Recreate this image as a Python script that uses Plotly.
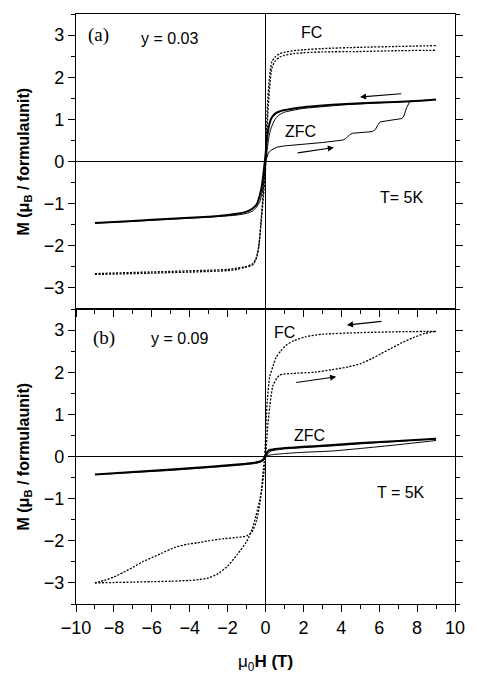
import plotly.graph_objects as go

# ---------------- data: panel (a), y = 0.03 ----------------
a_fc1_h = [-9, -6, -3, -2, -1.5, -1, -0.7, -0.5, -0.35, -0.2, -0.1, 0, 0.1, 0.2, 0.33, 0.5, 0.76, 1, 1.5, 2, 3, 5, 7, 9]
a_fc1_m = [-2.66, -2.62, -2.58, -2.56, -2.53, -2.49, -2.43, -2.3, -2.0, -1.2, -0.6, 0.1, 1.3, 1.95, 2.36, 2.48, 2.56, 2.59, 2.63, 2.65, 2.68, 2.71, 2.73, 2.75]
a_fc2_h = [-9, -6, -3, -2, -1.5, -1.14, -0.8, -0.62, -0.45, -0.36, -0.25, -0.12, 0, 0.1, 0.2, 0.33, 0.5, 0.76, 1, 1.5, 2, 3, 5, 7, 9]
a_fc2_m = [-2.68, -2.65, -2.61, -2.59, -2.56, -2.52, -2.48, -2.43, -2.25, -2.04, -1.55, -0.9, -0.2, 0.9, 1.65, 2.2, 2.38, 2.48, 2.52, 2.56, 2.58, 2.6, 2.61, 2.63, 2.64]

a_zfc_dn_h = [9, 7.7, 6, 4, 3, 2, 1.5, 1, 0.7, 0.5, 0.3, 0.2, 0.1, 0.05, 0, -0.1, -0.2, -0.3, -0.47, -0.7, -1, -1.5, -2, -3, -5, -7, -9]
a_zfc_dn_m = [1.47, 1.43, 1.40, 1.36, 1.33, 1.29, 1.26, 1.22, 1.18, 1.13, 1.02, 0.88, 0.62, 0.43, 0.15, -0.25, -0.6, -0.8, -1.02, -1.12, -1.19, -1.24, -1.27, -1.31, -1.36, -1.41, -1.46]
a_zfc_up_h = [-9, -7, -5, -3, -2, -1.5, -1, -0.7, -0.5, -0.3, -0.2, -0.1, 0, 0.1, 0.2, 0.3, 0.5, 0.7, 1, 1.5, 2, 3, 4, 6, 7.7, 9]
a_zfc_up_m = [-1.46, -1.42, -1.37, -1.32, -1.29, -1.27, -1.23, -1.18, -1.1, -0.95, -0.78, -0.5, -0.1, 0.32, 0.62, 0.8, 1.0, 1.1, 1.17, 1.22, 1.26, 1.3, 1.34, 1.39, 1.43, 1.47]
a_zfc_virgin_h = [0, 0.05, 0.15, 0.3, 0.6, 1, 1.8, 3, 4.1, 4.25, 4.45, 4.6, 5.65, 5.8, 5.95, 6.05, 7.2, 7.3, 7.45, 7.6, 7.7]
a_zfc_virgin_m = [0, 0.08, 0.2, 0.27, 0.34, 0.37, 0.4, 0.45, 0.51, 0.55, 0.64, 0.67, 0.71, 0.76, 0.88, 0.94, 1.02, 1.08, 1.28, 1.41, 1.45]

# ---------------- data: panel (b), y = 0.09 ----------------
b_fc_dn_h = [9, 7, 5, 3, 2.1, 1.5, 1.09, 0.8, 0.57, 0.4, 0.22, 0.1, 0.05, 0, -0.05, -0.12, -0.2, -0.3, -0.47, -0.7, -0.98, -1.5, -2.2, -3, -3.6, -4.1, -4.8, -5.5, -6, -6.5, -7, -7.5, -8, -8.5, -9]
b_fc_dn_m = [2.97, 2.96, 2.94, 2.9, 2.84, 2.75, 2.64, 2.5, 2.36, 2.15, 1.89, 1.35, 1.0, 0.4, -0.05, -0.33, -0.75, -1.12, -1.52, -1.78, -1.88, -1.92, -1.95, -2.0, -2.05, -2.08, -2.16, -2.3, -2.4, -2.5, -2.63, -2.75, -2.86, -2.94, -3.0]
b_fc_up_h = [-9, -8, -7, -6, -5, -4, -3.5, -3, -2.5, -2, -1.5, -1, -0.7, -0.5, -0.3, -0.2, -0.1, 0, 0.1, 0.22, 0.4, 0.74, 1.43, 2.6, 3.5, 4.4, 5, 5.6, 6.1, 6.6, 7.2, 7.8, 8.4, 9]
b_fc_up_m = [-3.0, -2.99, -2.98, -2.97, -2.96, -2.94, -2.92, -2.88, -2.78, -2.6, -2.33, -2.02, -1.72, -1.4, -1.02, -0.8, -0.45, -0.05, 0.62, 1.17, 1.69, 1.93, 1.97, 2.0, 2.06, 2.13, 2.2, 2.32, 2.44, 2.56, 2.7, 2.82, 2.92, 2.97]

b_zfc_dn_h = [9, 7, 5, 3.5, 2, 1, 0.5, 0.2, 0.1, 0, -0.1, -0.2, -0.3, -0.6, -1, -2, -3.5, -5, -7, -9]
b_zfc_dn_m = [0.42, 0.37, 0.32, 0.27, 0.23, 0.2, 0.18, 0.15, 0.1, 0.02, -0.06, -0.1, -0.12, -0.15, -0.17, -0.21, -0.26, -0.31, -0.37, -0.43]
b_zfc_up_h = [-9, -7, -5, -3.5, -2, -1, -0.6, -0.3, -0.2, -0.1, 0, 0.1, 0.2, 0.3, 0.5, 1, 2, 3.5, 5, 7, 9]
b_zfc_up_m = [-0.43, -0.38, -0.33, -0.28, -0.23, -0.19, -0.17, -0.14, -0.12, -0.09, -0.02, 0.05, 0.1, 0.13, 0.15, 0.18, 0.21, 0.25, 0.3, 0.36, 0.42]
b_zfc_virgin_h = [0, 0.1, 0.3, 1, 2, 3.5, 5, 7, 9]
b_zfc_virgin_m = [0, 0.02, 0.04, 0.07, 0.1, 0.13, 0.19, 0.28, 0.38]

# tick labels
x_ticks = [-10, -8, -6, -4, -2, 0, 2, 4, 6, 8, 10]
y_ticks = [-3, -2, -1, 0, 1, 2, 3]

# text labels: (panel, x, y, text, font)
labels = [
    ("a", -8.8, 3.0, "(a)", "serif"),
    ("a", -5.05, 2.93, "y = 0.03", "sans"),
    ("a", 2.41, 3.05, "FC", "sans"),
    ("a", 1.87, 0.71, "ZFC", "sans"),
    ("a", 7.18, -0.86, "T= 5K", "sans"),
    ("b", -8.5, 2.81, "(b)", "serif"),
    ("b", -4.53, 2.81, "y = 0.09", "sans"),
    ("b", 1.0, 2.95, "FC", "sans"),
    ("b", 2.33, 0.5, "ZFC", "sans"),
    ("b", 7.15, -0.85, "T = 5K", "sans"),
]
# arrows: (panel, head_x, head_y, tail_x, tail_y)
arrows = [
    ("a", 4.99, 1.53, 7.24, 1.61),
    ("a", 3.61, 0.33, 1.62, 0.20),
    ("b", 4.3, 3.12, 6.2, 3.21),
    ("b", 3.73, 1.89, 1.54, 1.75),
]

SANS = "Liberation Sans, Arial, Helvetica, sans-serif"
SERIF = "Liberation Serif, Times New Roman, serif"
DOT = "2px,1.5px"

fig = go.Figure()

def add(h, m, panel, width=1.0, dash="solid", smooth=True):
    xa, ya = ("x", "y") if panel == "a" else ("x2", "y2")
    line = dict(color="black", width=width, dash=dash)
    if smooth:
        line.update(shape="spline", smoothing=0.6)
    fig.add_trace(go.Scatter(x=h, y=m, mode="lines", xaxis=xa, yaxis=ya, line=line,
                             showlegend=False, hoverinfo="skip"))

add(a_fc1_h, a_fc1_m, "a", 1.3, DOT)
add(a_fc2_h, a_fc2_m, "a", 1.3, DOT)
add(a_zfc_up_h, a_zfc_up_m, "a", 1.0)
add(a_zfc_dn_h, a_zfc_dn_m, "a", 2.0)
add(a_zfc_virgin_h, a_zfc_virgin_m, "a", 1.0, smooth=False)

add(b_fc_dn_h, b_fc_dn_m, "b", 1.3, DOT)
add(b_fc_up_h, b_fc_up_m, "b", 1.3, DOT)
add(b_zfc_up_h, b_zfc_up_m, "b", 1.0)
add(b_zfc_dn_h, b_zfc_dn_m, "b", 2.0)
add(b_zfc_virgin_h, b_zfc_virgin_m, "b", 1.0)

annotations = []
for panel, x, y, txt, f in labels:
    xr, yr = ("x", "y") if panel == "a" else ("x2", "y2")
    annotations.append(dict(x=x, y=y, xref=xr, yref=yr, text=txt, showarrow=False,
                            xanchor="center", yanchor="middle",
                            font=dict(family=SERIF if f == "serif" else SANS,
                                      size=19 if f == "serif" else 16, color="black")))
for panel, hx, hy, tx, ty in arrows:
    xr, yr = ("x", "y") if panel == "a" else ("x2", "y2")
    annotations.append(dict(x=hx, y=hy, ax=tx, ay=ty, xref=xr, yref=yr, axref=xr, ayref=yr,
                            text="", showarrow=True, arrowhead=2, arrowsize=1.1,
                            arrowwidth=1.1, arrowcolor="black"))

ytitle = "<b>M (μ<sub>B</sub> / formulaunit)</b>"
annotations.append(dict(x=0, y=0.75, xref="paper", yref="paper", text=ytitle, textangle=-90,
                        showarrow=False, xanchor="center", yanchor="middle", xshift=-52,
                        font=dict(family=SANS, size=16, color="black")))
annotations.append(dict(x=0, y=0.25, xref="paper", yref="paper", text=ytitle, textangle=-90,
                        showarrow=False, xanchor="center", yanchor="middle", xshift=-52,
                        font=dict(family=SANS, size=16, color="black")))
annotations.append(dict(x=0.5, y=0, xref="paper", yref="paper", text="μ<sub>0</sub><b>H (T)</b>",
                        showarrow=False, xanchor="center", yanchor="middle", yshift=-59,
                        font=dict(family=SANS, size=17, color="black")))

xcommon = dict(range=[-10, 10], tickvals=x_ticks, ticks="outside", ticklen=7, tickwidth=1,
               tickcolor="black", showline=True, linecolor="black", linewidth=1.3, mirror=True,
               showgrid=False, zeroline=True, zerolinecolor="black", zerolinewidth=1,
               minor=dict(dtick=1, ticks="outside", ticklen=4, tickcolor="black", showgrid=False),
               tickfont=dict(family=SANS, size=18, color="black"))
ycommon = dict(range=[-3.5, 3.5], tickvals=y_ticks, ticks="outside", ticklen=7, tickwidth=1,
               tickcolor="black", showline=True, linecolor="black", linewidth=1.3, mirror="ticks",
               showgrid=False, zeroline=True, zerolinecolor="black", zerolinewidth=1,
               minor=dict(dtick=0.5, ticks="outside", ticklen=4, tickcolor="black", showgrid=False),
               tickfont=dict(family=SANS, size=18, color="black"))

fig.update_layout(
    width=477, height=674,
    margin=dict(l=76, r=15, t=14, b=70),
    paper_bgcolor="white", plot_bgcolor="white",
    xaxis=dict(domain=[0, 1], anchor="y", showticklabels=False, **xcommon),
    yaxis=dict(domain=[0.5, 1], anchor="x", **ycommon),
    xaxis2=dict(domain=[0, 1], anchor="y2", showticklabels=True, **xcommon),
    yaxis2=dict(domain=[0, 0.5], anchor="x2", **ycommon),
    annotations=annotations,
    font=dict(family=SANS, size=16, color="black"),
)

fig.write_html("out.html")
